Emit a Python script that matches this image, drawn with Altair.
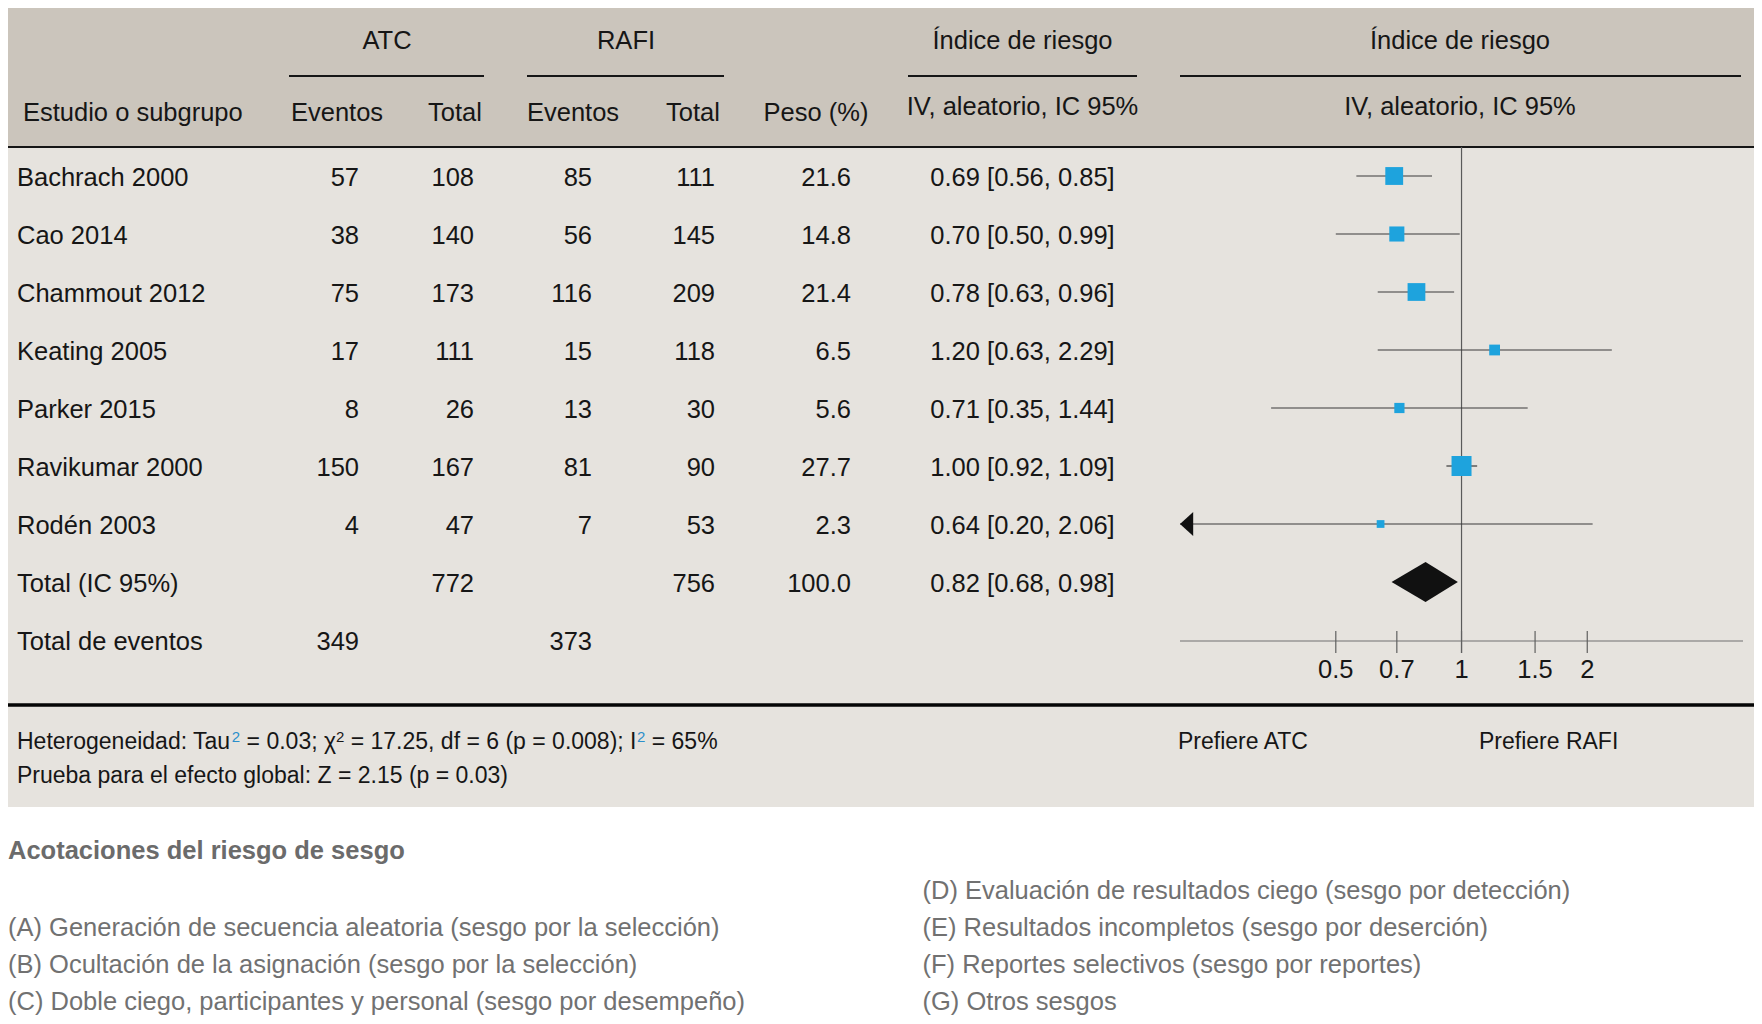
import altair as alt
import pandas as pd

# ---------------- data ----------------
studies = ["Bachrach 2000", "Cao 2014", "Chammout 2012", "Keating 2005",
           "Parker 2015", "Ravikumar 2000", "Rodén 2003"]
atc_events = [57, 38, 75, 17, 8, 150, 4]
atc_total = [108, 140, 173, 111, 26, 167, 47]
rafi_events = [85, 56, 116, 15, 13, 81, 7]
rafi_total = [111, 145, 209, 118, 30, 90, 53]
weights = [21.6, 14.8, 21.4, 6.5, 5.6, 27.7, 2.3]
hr_est = [0.69, 0.70, 0.78, 1.20, 0.71, 1.00, 0.64]
hr_low = [0.56, 0.50, 0.63, 0.63, 0.35, 0.92, 0.20]
hr_high = [0.85, 0.99, 0.96, 2.29, 1.44, 1.09, 2.06]

total_label = "Total (IC 95%)"
total_atc = 772
total_rafi = 756
total_weight = 100.0
total_est, total_low, total_high = 0.82, 0.68, 0.98

events_label = "Total de eventos"
events_atc = 349
events_rafi = 373

axis_ticks = [0.5, 0.7, 1, 1.5, 2]
axis_tick_labels = ["0.5", "0.7", "1", "1.5", "2"]

# heterogeneity line split into pieces: normal text and superscripts
het_parts = ["Heterogeneidad: Tau", "2", " = 0.03; χ", "2",
             " = 17.25, df = 6 (p = 0.008); I", "2", " = 65%"]
het_kinds = ["text", "sup_blue", "text", "sup", "text", "sup_blue", "text"]
overall_text = "Prueba para el efecto global: Z = 2.15 (p = 0.03)"
favours_left = "Prefiere ATC"
favours_right = "Prefiere RAFI"
bias_title = "Acotaciones del riesgo de sesgo"
bias_left = ["(A) Generación de secuencia aleatoria (sesgo por la selección)",
             "(B) Ocultación de la asignación (sesgo por la selección)",
             "(C) Doble ciego, participantes y personal (sesgo por desempeño)"]
bias_right = ["(D) Evaluación de resultados ciego (sesgo por detección)",
              "(E) Resultados incompletos (sesgo por deserción)",
              "(F) Reportes selectivos (sesgo por reportes)",
              "(G) Otros sesgos"]

# ---------------- tables built from the arrays ----------------
def hr_str(e, l, h):
    return f"{e:.2f} [{l:.2f}, {h:.2f}]"

rows = []
for i, s in enumerate(studies):
    rows.append(dict(row=i, name=s, c1=str(atc_events[i]), c2=str(atc_total[i]),
                     c3=str(rafi_events[i]), c4=str(rafi_total[i]),
                     c5=f"{weights[i]:.1f}", hr=hr_str(hr_est[i], hr_low[i], hr_high[i])))
TOTAL_ROW = len(studies)
rows.append(dict(row=TOTAL_ROW, name=total_label, c1="", c2=str(total_atc), c3="",
                 c4=str(total_rafi), c5=f"{total_weight:.1f}",
                 hr=hr_str(total_est, total_low, total_high)))
rows.append(dict(row=TOTAL_ROW + 1, name=events_label, c1=str(events_atc), c2="",
                 c3=str(events_rafi), c4="", c5="", hr=""))
table = pd.DataFrame(rows)

forest = pd.DataFrame(dict(row=list(range(len(studies))), est=hr_est,
                           lo=hr_low, hi=hr_high, w=weights))
# diamond vertices: left end, apex (point estimate), right end
diamond = pd.DataFrame(dict(v=[total_low, total_est, total_high],
                            apex=[0, 1, 0], row=[TOTAL_ROW] * 3))
ticks_df = pd.DataFrame(dict(t=axis_ticks, label=axis_tick_labels))

# ---------------- style / layout ----------------
W, H = 1746, 1008
FONT = "Liberation Sans, Arial, Helvetica, sans-serif"
FS = 25.5
FS_FOOT = 23
FS_SUP = 15
INK = "#161616"
GREY_TXT = "#717171"
BLUE = "#1ea3dd"
SUP_BLUE = "#2b8fcb"
HEAD_BG = "#cbc5bc"
BODY_BG = "#e6e3de"

XMIN, XMAX = 0.2118, 4.72
xscale = alt.Scale(type="log", domain=[XMIN, XMAX], range=[1172, 1735], clamp=True)
yscale = alt.Scale(domain=[0, 8], range=[168.0, 632.0], zero=False, nice=False)

one = alt.Data(values=[{"k": 1}])

# Arial / Liberation Sans advance widths (1/1000 em) for laying out text pieces
ARIAL_W = {" ": 278, "=": 584, ".": 278, ";": 278, ",": 278, ":": 278,
           "(": 333, ")": 333, "%": 889, "χ": 500, "I": 278, "H": 722, "T": 611,
           "a": 556, "d": 556, "e": 556, "f": 278, "g": 556, "i": 222, "n": 556,
           "o": 556, "p": 556, "r": 333, "t": 278, "u": 556}
KERN = {("T", "a"): -74}


def text_width(s, size):
    w = 0
    for i, ch in enumerate(s):
        w += ARIAL_W.get(ch, 556)
        if i > 0:
            w += KERN.get((s[i - 1], ch), 0)
    return w * size / 1000.0


def rect(x1, x2, y1, y2, color):
    return alt.Chart(one).mark_rect(color=color, opacity=1).encode(
        x=alt.value(x1), x2=alt.value(x2), y=alt.value(y1), y2=alt.value(y2))


def hline(x1, x2, y, color=INK, width=2.0):
    return alt.Chart(one).mark_rule(color=color, strokeWidth=width).encode(
        x=alt.value(x1), x2=alt.value(x2), y=alt.value(y))


def label(txt, x, y, align="left", color=INK, weight="normal", size=FS, dy=1.5):
    return alt.Chart(one).mark_text(text=txt, align=align, baseline="middle",
                                    font=FONT, fontSize=size, color=color,
                                    fontWeight=weight, dy=dy).encode(
        x=alt.value(x), y=alt.value(y))


layers = []
# backgrounds
layers.append(rect(0, W, 0, 139, HEAD_BG))
layers.append(rect(0, W, 139, 799, BODY_BG))

# header lines
layers.append(hline(0, W, 139, width=2))
layers.append(hline(0, W, 697, color="#050505", width=3.6))
layers.append(hline(281, 476, 68))
layers.append(hline(519, 716, 68))
layers.append(hline(900, 1129, 68))
layers.append(hline(1172, 1733, 68))

# header texts
layers.append(label("ATC", 379, 31.5, "center"))
layers.append(label("RAFI", 618, 31.5, "center"))
layers.append(label("Índice de riesgo", 1014.5, 31.5, "center"))
layers.append(label("Índice de riesgo", 1452, 31.5, "center"))
layers.append(label("Estudio o subgrupo", 15, 103.5))
layers.append(label("Eventos", 329, 103.5, "center"))
layers.append(label("Total", 447, 103.5, "center"))
layers.append(label("Eventos", 565, 103.5, "center"))
layers.append(label("Total", 685, 103.5, "center"))
layers.append(label("Peso (%)", 808, 103.5, "center"))
layers.append(label("IV, aleatorio, IC 95%", 1014.5, 97.5, "center"))
layers.append(label("IV, aleatorio, IC 95%", 1452, 97.5, "center"))

# table columns
col_specs = [("name", 9, "left"), ("c1", 351, "right"), ("c2", 466, "right"),
             ("c3", 584, "right"), ("c4", 707, "right"), ("c5", 843, "right"),
             ("hr", 1014.5, "center")]
for field, xpos, al in col_specs:
    layers.append(
        alt.Chart(table).mark_text(align=al, baseline="middle", font=FONT,
                                   fontSize=FS, color=INK, dy=1.5).encode(
            x=alt.value(xpos),
            y=alt.Y("row:Q", scale=yscale, axis=None),
            text=alt.Text(f"{field}:N"))
    )

# forest plot: reference line at 1
layers.append(
    alt.Chart(pd.DataFrame(dict(v=[1.0]))).mark_rule(color="#5a5a5a", strokeWidth=1.2).encode(
        x=alt.X("v:Q", scale=xscale, axis=None), y=alt.value(139), y2=alt.value(645))
)
# axis line
layers.append(
    alt.Chart(pd.DataFrame(dict(a=[XMIN], b=[XMAX]))).mark_rule(color="#707070", strokeWidth=1.2).encode(
        x=alt.X("a:Q", scale=xscale, axis=None), x2="b:Q", y=alt.value(633))
)
# ticks + labels
layers.append(
    alt.Chart(ticks_df).mark_rule(color="#606060", strokeWidth=1.2).encode(
        x=alt.X("t:Q", scale=xscale, axis=None), y=alt.value(623), y2=alt.value(645))
)
layers.append(
    alt.Chart(ticks_df).mark_text(align="center", baseline="middle", font=FONT,
                                  fontSize=FS, color=INK, dy=1.5).encode(
        x=alt.X("t:Q", scale=xscale, axis=None), y=alt.value(660), text="label:N")
)
# confidence intervals
layers.append(
    alt.Chart(forest).mark_rule(color="#3a3a3a", strokeWidth=1.2).encode(
        x=alt.X("lo:Q", scale=xscale, axis=None), x2="hi:Q",
        y=alt.Y("row:Q", scale=yscale, axis=None))
)
# arrow where CI runs off the left end
layers.append(
    alt.Chart(forest).transform_filter(f"datum.lo < {XMIN}").mark_point(
        shape="M 0 0 L 1.1 -1 L 1.1 1 Z", filled=True, size=576, color="#111111",
        opacity=1, strokeWidth=0).encode(
        x=alt.X("lo:Q", scale=xscale, axis=None),
        y=alt.Y("row:Q", scale=yscale, axis=None))
)
# weighted squares
layers.append(
    alt.Chart(forest).mark_point(shape="square", filled=True, opacity=1,
                                 color=BLUE, strokeWidth=0).encode(
        x=alt.X("est:Q", scale=xscale, axis=None),
        y=alt.Y("row:Q", scale=yscale, axis=None),
        size=alt.Size("w:Q", scale=alt.Scale(domain=[2.3, 27.7], range=[60, 400]), legend=None))
)
# pooled diamond
layers.append(
    alt.Chart(diamond).transform_calculate(
        ya="datum.row - 0.345 * datum.apex",
        yb="datum.row + 0.345 * datum.apex").mark_area(
        color="#111111", opacity=1, orient="vertical").encode(
        x=alt.X("v:Q", scale=xscale, axis=None),
        y=alt.Y("ya:Q", scale=yscale, axis=None, stack=None),
        y2="yb:Q")
)

# footer: heterogeneity line assembled from pieces
xpos = 9.0
for part, kind in zip(het_parts, het_kinds):
    if kind == "text":
        stripped = part.lstrip(" ")
        xpos += text_width(part[:len(part) - len(stripped)], FS_FOOT)  # leading spaces
        layers.append(label(stripped, xpos, 732.5, size=FS_FOOT))
        xpos += text_width(stripped, FS_FOOT)
    else:
        col = SUP_BLUE if kind == "sup_blue" else INK
        layers.append(label(part, xpos + 0.5, 732.5, color=col, size=FS_SUP, dy=-4.0))
        xpos += text_width(part, FS_SUP) + 0.5
layers.append(label(overall_text, 9, 766, size=FS_FOOT))
layers.append(label(favours_left, 1170, 732, size=FS_FOOT))
layers.append(label(favours_right, 1471, 732, size=FS_FOOT))

layers.append(label(bias_title, 0, 841.5, color="#6b6b6b", weight="bold"))
for i, t in enumerate(bias_left):
    layers.append(label(t, 0, 918 + 37 * i, color=GREY_TXT))
for i, t in enumerate(bias_right):
    layers.append(label(t, 914.5, 881 + 37.3 * i, color=GREY_TXT))

chart = alt.layer(*layers).properties(
    width=W, height=H,
    autosize=alt.AutoSizeParams(type="none"),
    padding=0,
    background="white",
).configure_view(stroke=None)

chart.save("out.html", embed_options={"renderer": "svg", "actions": False})
